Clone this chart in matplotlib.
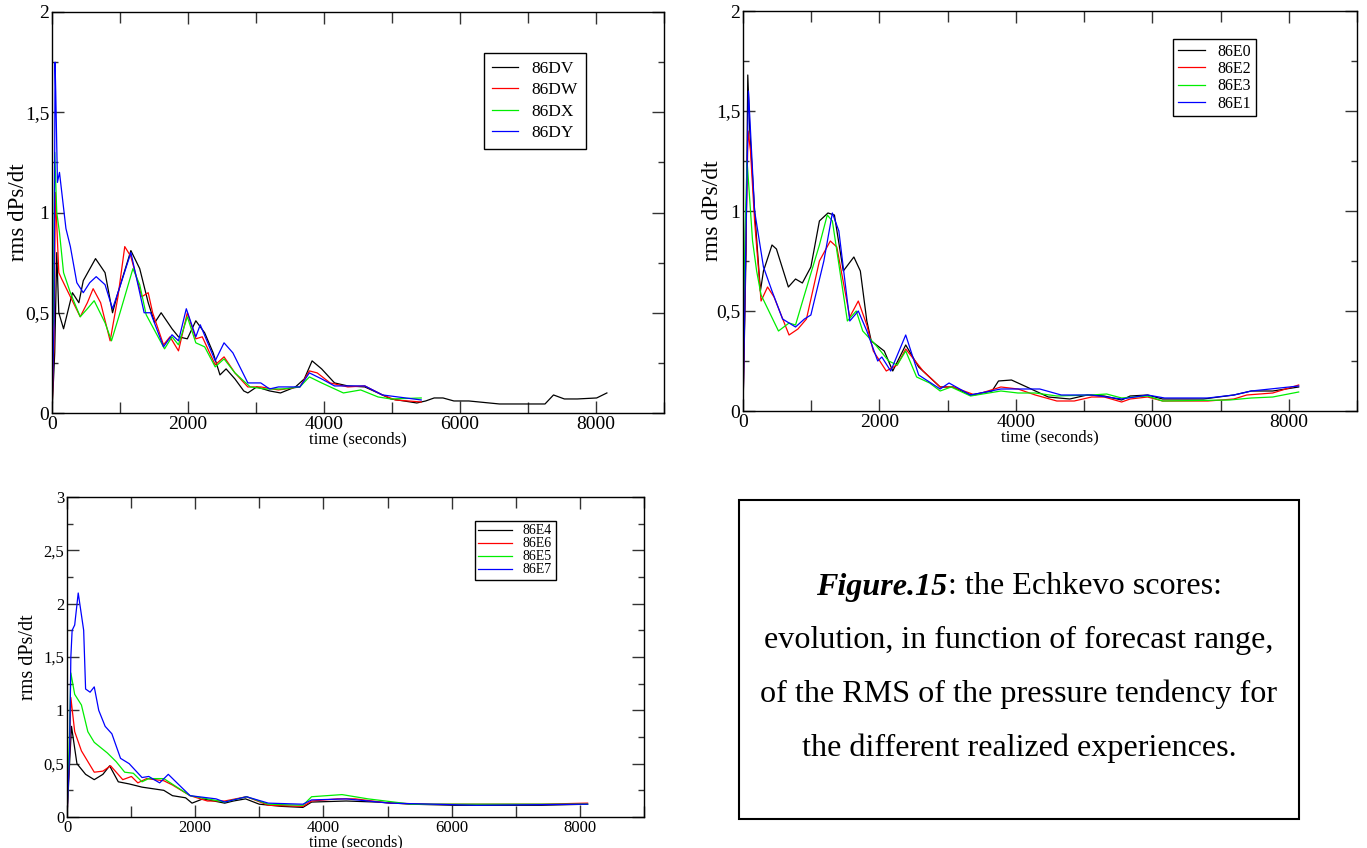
import matplotlib
matplotlib.use('Agg')
import matplotlib.pyplot as plt
from matplotlib.ticker import MultipleLocator, FuncFormatter
from matplotlib.patches import Rectangle

plt.rcParams['font.family'] = ['Liberation Serif', 'DejaVu Serif']

# panel 1 : 86DV .. 86DY
t_dv = [0, 40, 70, 100, 170, 300, 395, 460, 640, 780, 890, 970, 1160, 1290, 1415, 1510, 1605, 1765, 1860,
        1990, 2115, 2245, 2370, 2470, 2560, 2690, 2820, 2880, 3010, 3200, 3360, 3580, 3710, 3825, 3965,
        4155, 4350, 4600, 4795, 4985, 5175, 5365, 5495, 5620, 5750, 5910, 6130, 6580, 6900, 7250, 7375,
        7535, 7725, 8010, 8160]
v_dv = [0, 0.3, 0.8, 0.5, 0.42, 0.6, 0.55, 0.66, 0.77, 0.7, 0.5, 0.6, 0.81, 0.72, 0.55, 0.45, 0.5, 0.42, 0.38,
        0.37, 0.46, 0.4, 0.3, 0.19, 0.22, 0.17, 0.11, 0.1, 0.13, 0.11, 0.1, 0.13, 0.17, 0.26, 0.22,
        0.15, 0.135, 0.13, 0.1, 0.07, 0.06, 0.05, 0.06, 0.075, 0.075, 0.06, 0.06, 0.045, 0.045, 0.045, 0.09,
        0.07, 0.07, 0.075, 0.1]
t_dw = [0, 30, 50, 100, 140, 270, 415, 520, 605, 715, 855, 970, 1070, 1160, 1320, 1415, 1480, 1640, 1735,
        1860, 1990, 2115, 2210, 2400, 2530, 2690, 2880, 3070, 3330, 3645, 3785, 3900, 4090, 4350, 4600,
        4860, 5050, 5430]
v_dw = [0, 0.35, 1.1, 0.7, 0.67, 0.58, 0.48, 0.55, 0.62, 0.55, 0.36, 0.58, 0.83, 0.78, 0.58, 0.6, 0.5, 0.34, 0.38,
        0.31, 0.5, 0.37, 0.38, 0.24, 0.28, 0.2, 0.13, 0.13, 0.115, 0.13, 0.21, 0.2, 0.15, 0.13, 0.135,
        0.09, 0.065, 0.055]
t_dx = [0, 20, 40, 70, 110, 170, 270, 415, 520, 620, 780, 875, 1000, 1190, 1290, 1385, 1480, 1655, 1765,
        1860, 1990, 2115, 2245, 2400, 2530, 2690, 2915, 3135, 3390, 3645, 3785, 3965, 4285, 4540, 4795,
        4985, 5430]
v_dx = [0.4, 0.45, 1.3, 1.0, 0.9, 0.7, 0.6, 0.48, 0.52, 0.56, 0.45, 0.36, 0.5, 0.72, 0.64, 0.49, 0.43, 0.32, 0.38,
        0.34, 0.48, 0.35, 0.33, 0.23, 0.27, 0.2, 0.13, 0.12, 0.12, 0.13, 0.18, 0.15, 0.1, 0.115, 0.08,
        0.07, 0.075]
t_dy = [0, 30, 45, 55, 80, 110, 205, 270, 365, 460, 555, 650, 780, 890, 970, 1160, 1355, 1450, 1640, 1765,
        1860, 1975, 2115, 2180, 2400, 2530, 2660, 2880, 3070, 3200, 3330, 3645, 3785, 3965, 4155, 4600,
        4860, 5430]
v_dy = [0, 0.45, 1.75, 1.6, 1.15, 1.2, 0.92, 0.83, 0.65, 0.6, 0.65, 0.68, 0.64, 0.52, 0.6, 0.8, 0.5, 0.5, 0.33, 0.39,
        0.36, 0.52, 0.38, 0.44, 0.26, 0.35, 0.3, 0.15, 0.15, 0.12, 0.13, 0.13, 0.2, 0.17, 0.135, 0.135,
        0.09, 0.065]

# panel 2 : 86E0 86E2 86E3 86E1
t_e0 = [0, 45, 70, 100, 170, 255, 300, 425, 490, 665, 770, 870, 995, 1120, 1245, 1340, 1470, 1625, 1720,
        1815, 1880, 2070, 2195, 2385, 2575, 2890, 3080, 3335, 3650, 3745, 3935, 4160, 4475, 4790, 5045,
        5295, 5550, 5675, 5930, 6150, 6750, 7195, 7450, 7765, 8145]
v_e0 = [0, 0.8, 1.68, 1.4, 1.0, 0.6, 0.7, 0.83, 0.81, 0.62, 0.66, 0.64, 0.72, 0.95, 0.99, 0.98, 0.7, 0.77, 0.7,
        0.45, 0.35, 0.3, 0.2, 0.33, 0.22, 0.12, 0.12, 0.08, 0.1, 0.15, 0.155, 0.12, 0.07, 0.06, 0.08,
        0.075, 0.055, 0.075, 0.08, 0.06, 0.06, 0.08, 0.1, 0.1, 0.12]
t_e2 = [0, 50, 75, 110, 170, 265, 360, 455, 675, 805, 930, 1120, 1280, 1375, 1565, 1690, 1815, 1910,
        2100, 2260, 2385, 2640, 2890, 3080, 3400, 3780, 4030, 4285, 4600, 4855, 5110, 5295, 5550, 5675,
        5930, 6150, 6815, 7195, 7385, 7765, 8145]
v_e2 = [0, 1.0, 1.4, 1.3, 0.95, 0.55, 0.62, 0.57, 0.38, 0.41, 0.46, 0.75, 0.85, 0.82, 0.47, 0.55, 0.43, 0.3,
        0.2, 0.23, 0.31, 0.2, 0.12, 0.12, 0.08, 0.12, 0.11, 0.08, 0.05, 0.05, 0.07, 0.07, 0.045, 0.06,
        0.07, 0.05, 0.05, 0.06, 0.08, 0.09, 0.13]
t_e3 = [0, 30, 60, 90, 140, 200, 265, 520, 675, 770, 900, 1120, 1235, 1310, 1530, 1660, 1755, 1945, 2135,
        2260, 2385, 2545, 2735, 2890, 3050, 3335, 3780, 4030, 4285, 4600, 5110, 5330, 5550, 5930, 6150,
        7130, 7450, 7765, 8145]
v_e3 = [0.2, 0.9, 1.25, 1.1, 0.85, 0.7, 0.58, 0.4, 0.44, 0.43, 0.58, 0.83, 0.98, 0.95, 0.45, 0.5, 0.4, 0.33, 0.25,
        0.23, 0.3, 0.17, 0.14, 0.1, 0.12, 0.075, 0.1, 0.09, 0.09, 0.075, 0.08, 0.085, 0.065, 0.075, 0.05,
        0.055, 0.065, 0.07, 0.095]
t_e1 = [0, 45, 80, 110, 170, 300, 425, 580, 770, 900, 995, 1185, 1310, 1405, 1565, 1690, 1815, 1975, 2035,
        2165, 2385, 2575, 2890, 3020, 3335, 3780, 4030, 4350, 4665, 5110, 5550, 5930, 6180, 6815, 7195,
        7450, 8145]
v_e1 = [0, 0.9, 1.6, 1.4, 1.0, 0.72, 0.6, 0.46, 0.42, 0.46, 0.48, 0.75, 0.99, 0.9, 0.45, 0.5, 0.4, 0.25, 0.27,
        0.2, 0.38, 0.18, 0.11, 0.14, 0.08, 0.11, 0.11, 0.11, 0.08, 0.08, 0.06, 0.08, 0.065, 0.065, 0.08,
        0.1, 0.125]

# panel 3 : 86E4 86E6 86E5 86E7
t_e4 = [0, 40, 70, 155, 290, 425, 560, 665, 800, 970, 1170, 1510, 1645, 1850, 1950, 2120, 2460, 2595,
        2785, 3000, 3340, 3680, 3815, 4355, 4830, 5375, 6050, 7400, 8120]
v_e4 = [0, 0.5, 0.85, 0.5, 0.4, 0.35, 0.4, 0.48, 0.33, 0.31, 0.28, 0.25, 0.2, 0.18, 0.13, 0.17, 0.13, 0.15,
        0.17, 0.12, 0.1, 0.09, 0.14, 0.15, 0.14, 0.12, 0.11, 0.11, 0.12]
t_e6 = [0, 40, 60, 120, 225, 425, 560, 680, 870, 1005, 1105, 1240, 1510, 1645, 1920, 2190, 2460, 2800,
        3140, 3680, 3815, 4220, 4495, 5035, 5710, 7400, 8120]
v_e6 = [0, 0.6, 1.12, 0.8, 0.62, 0.42, 0.43, 0.48, 0.35, 0.38, 0.32, 0.36, 0.34, 0.3, 0.2, 0.15, 0.15, 0.19,
        0.11, 0.1, 0.15, 0.17, 0.17, 0.13, 0.12, 0.12, 0.13]
t_e5 = [0, 40, 60, 120, 225, 325, 425, 630, 765, 900, 1035, 1170, 1275, 1510, 1715, 1920, 2460, 2800,
        3140, 3680, 3815, 4290, 4695, 5375, 7400, 8120]
v_e5 = [0, 0.8, 1.35, 1.15, 1.05, 0.8, 0.7, 0.6, 0.52, 0.42, 0.41, 0.33, 0.36, 0.36, 0.28, 0.2, 0.14, 0.19,
        0.12, 0.11, 0.19, 0.21, 0.17, 0.12, 0.12, 0.12]
t_e7 = [0, 40, 60, 80, 120, 175, 260, 290, 360, 425, 495, 595, 700, 835, 970, 1170, 1275, 1445, 1580,
        1715, 1920, 2325, 2460, 2800, 3140, 3680, 3815, 4355, 5035, 6390, 8120]
v_e7 = [0, 0.6, 1.5, 1.75, 1.8, 2.1, 1.75, 1.2, 1.17, 1.22, 1.0, 0.85, 0.78, 0.55, 0.5, 0.37, 0.38, 0.32, 0.4,
        0.32, 0.2, 0.17, 0.14, 0.19, 0.13, 0.12, 0.16, 0.17, 0.13, 0.11, 0.12]

colors = ['black', 'red', '#00ee00', 'blue']

W, H = 1367, 848
fig = plt.figure(figsize=(W / 100, H / 100), dpi=100)


def px_axes(l, t, r, b):
    return fig.add_axes([l / W, 1 - b / H, (r - l) / W, (b - t) / H])


def comma(v, pos):
    s = ('%g' % v)
    return s.replace('.', ',')


def style(ax, ymax, tsize, ysize, xsize, ylx):
    ax.set_xlim(0, 9000)
    ax.set_ylim(0, ymax)
    ax.xaxis.set_major_locator(MultipleLocator(2000))
    ax.xaxis.set_minor_locator(MultipleLocator(1000))
    ax.yaxis.set_major_locator(MultipleLocator(0.5))
    ax.yaxis.set_minor_locator(MultipleLocator(0.25))
    ax.yaxis.set_major_formatter(FuncFormatter(comma))
    ax.tick_params(which='major', direction='in', top=True, right=True, length=8.5, width=1,
                   labelsize=tsize, pad=2, color='#333333')
    ax.tick_params(axis='x', which='minor', direction='in', top=True, bottom=True, length=8, width=1,
                   color='#333333')
    ax.tick_params(axis='y', which='minor', direction='in', left=True, right=True, length=4, width=1,
                   color='#333333')
    for s in ax.spines.values():
        s.set_linewidth(1)
    ax.set_xlabel('time (seconds)', fontsize=xsize, labelpad=-1)
    ax.set_ylabel('rms dPs/dt', fontsize=ysize)
    ax.yaxis.set_label_coords(ylx, 0.5)


def legend(ax, anchor, size, hl, sp, pad):
    lg = ax.legend(loc='upper left', bbox_to_anchor=anchor, borderaxespad=0, fontsize=size,
                   fancybox=False, edgecolor='black', framealpha=1, handlelength=hl,
                   labelspacing=sp, borderpad=pad, handletextpad=0.8)
    lg.get_frame().set_linewidth(1)


# panel 1
ax1 = px_axes(52, 12, 664, 413)
for t, v, c, lab in zip([t_dv, t_dw, t_dx, t_dy], [v_dv, v_dw, v_dx, v_dy], colors,
                        ['86DV', '86DW', '86DX', '86DY']):
    ax1.plot(t, v, color=c, lw=0.9, label=lab)
style(ax1, 2, 14, 16.5, 12, -0.037)
legend(ax1, (0.706, 0.898), 12.5, 1.5, 0.3, 0.45)

# panel 2
ax2 = px_axes(743, 11, 1357, 411)
for t, v, c, lab in zip([t_e0, t_e2, t_e3, t_e1], [v_e0, v_e2, v_e3, v_e1], colors,
                        ['86E0', '86E2', '86E3', '86E1']):
    ax2.plot(t, v, color=c, lw=0.9, label=lab)
style(ax2, 2, 14, 17, 12, -0.032)
legend(ax2, (0.700, 0.93), 11.5, 1.7, 0.08, 0.3)

# panel 3
ax3 = px_axes(67, 497, 644, 817)
for t, v, c, lab in zip([t_e4, t_e6, t_e5, t_e7], [v_e4, v_e6, v_e5, v_e7], colors,
                        ['86E4', '86E6', '86E5', '86E7']):
    ax3.plot(t, v, color=c, lw=0.9, label=lab)
style(ax3, 3, 12, 14.5, 11.5, -0.050)
legend(ax3, (0.707, 0.925), 10, 2.4, 0.0, 0.25)

# caption box
fig.patches.append(Rectangle((739 / W, 1 - 819 / H), (1299 - 739) / W, (819 - 500) / H,
                             transform=fig.transFigure, fill=False, edgecolor='black', lw=1.5))
cx = 1019 / W
fs = 23.1
lines = ['evolution, in function of forecast range,',
         'of the RMS of the pressure tendency for',
         'the different realized experiences.']
ys = [640, 694, 748]
for s, y in zip(lines, ys):
    fig.text(cx, 1 - y / H, s, ha='center', va='center', fontsize=fs)

# first line: bold italic part + regular part, centred together
y0 = 1 - 587 / H
p1 = fig.text(0, y0, 'Figure.15', fontsize=fs, fontweight='bold', fontstyle='italic', va='center')
p2 = fig.text(0, y0, ': the Echkevo scores:', fontsize=fs, va='center')
fig.canvas.draw()
r = fig.canvas.get_renderer()
w1 = p1.get_window_extent(r).width / W
w2 = p2.get_window_extent(r).width / W
x0 = cx - (w1 + w2) / 2
p1.set_x(x0)
p2.set_x(x0 + w1)

fig.savefig('out.png', dpi=100)
